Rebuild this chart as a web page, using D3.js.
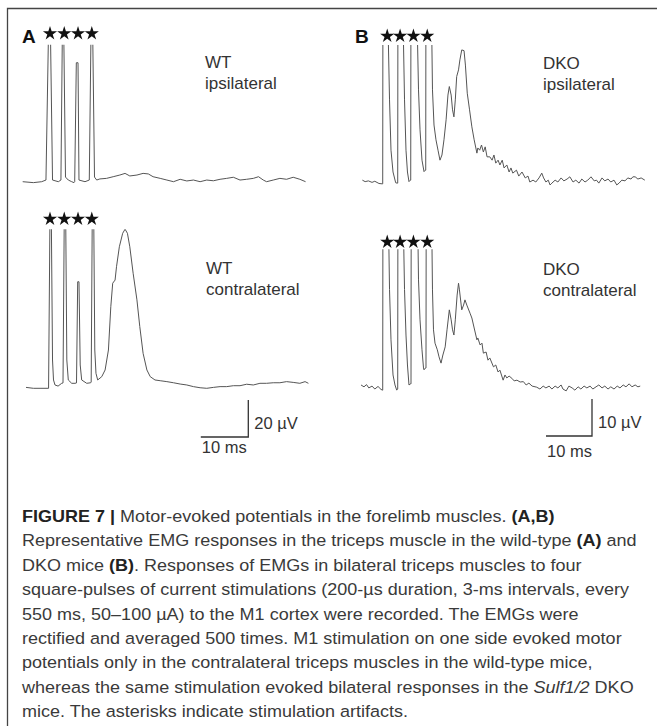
<!DOCTYPE html>
<html>
<head>
<meta charset="utf-8">
<style>
  body { margin: 0; background: #fff; }
  text { font-family: "Liberation Sans", Arial, sans-serif; }
</style>
</head>
<body>
<script src="https://d3js.org/d3.v7.min.js"></script>
<script>
    // traces: [time (ms, from first stimulus), amplitude (µV)]
    let wtIpsi = [[-5.75,0],[-3.5,-0.5],[-1.75,0],[-0.85,0.9],[-0.32,80],[0.1,80],[0.53,0.9],[1.75,0],[2.3,0.9],
        [2.6,80],[2.9,80],[3.26,2.5],[3.85,0.9],[4.57,0],[5.05,-0.5],[5.2,0],[5.54,64.3],[5.9,64.3],[6.1,0.9],
        [7.37,0],[8.27,0.9],[8.63,80],[8.99,80],[9.37,2.5],[9.83,0.9],[10.5,1.5],[11.9,1.8],[13.3,2.7],[14.7,3.6],
        [15.8,4.5],[16.8,3.1],[18.3,3.6],[19.6,4.5],[20.7,4.2],[21.7,2.7],[23.2,1.8],[24.6,0.9],[26,0],[27.4,1.3],
        [28.8,0.4],[30.2,0.9],[31.6,0],[33,0.9],[34.4,0.5],[35.8,1.3],[37.2,1.8],[38.6,2.4],[40,0.9],[41.4,1.3],
        [42.8,1.8],[43.9,2.7],[44.9,0.9],[45.6,0],[47,0.9],[48.4,1.8],[49.8,1.3],[51.2,2.4],[52.6,1.3],[53.8,0]]

    let wtContra = [[-5.05,0.5],[-3.5,0],[-2.1,0],[-0.3,0],[0,95],[0.27,95],[0.53,15.3],[0.74,4.5],[1.05,1.8],
        [1.7,1.2],[2.46,2.7],[2.74,2.9],[3.01,95],[3.3,95],[3.54,15.3],[3.85,4.5],[4.57,2.7],[5.26,2.7],[5.58,2.9],
        [5.83,57.6],[6.1,57.6],[6.36,12.6],[6.67,4.5],[7.73,2.7],[8.57,3],[8.67,3.4],[8.9,95],[9.2,95],[9.43,20.7],
        [9.68,8.1],[10.04,4.5],[10.9,6.3],[11.6,9.9],[12.3,20.7],[12.8,44.1],[13.2,56.8],[13.7,58.5],[14.0,65.7],
        [14.6,76.5],[15.3,83.8],[15.8,86],[16.3,83.8],[16.8,76.5],[17.5,62.2],[18.3,47.8],[18.9,33.4],[19.6,18.9],
        [20.4,9.9],[21.1,6.3],[22.1,4.5],[23.2,4.1],[24.6,3.6],[26,3],[27.4,2.3],[28.8,1.8],[30.2,0.9],[31.6,0.3],
        [33,0],[34.4,0.5],[35.8,0.9],[37.2,0.9],[38.6,1.4],[40,1.4],[41.4,2.2],[42.8,1.8],[44.2,2.7],[45.6,2.7],
        [47,3],[48.4,3],[49.8,3.6],[51.2,3.2],[52.6,2.7],[53.7,3.6],[54.4,2.7]]

    let dkoIpsi = [[-4.7,0.5],[-4.1,0.1],[-3.4,0.3],[-2.6,-0.1],[-2.0,0.2],[-1.1,-0.4],[-0.37,-0.5],[-0.28,-0.5],
        [-0.24,45],[0.83,45],[1.2,22.2],[1.52,8.6],[1.96,2.7],[2.54,-0.2],[2.83,-0.3],[2.98,-0.3],[3.02,45],
        [4.13,45],[4.46,22.2],[4.78,8.6],[5.1,2.7],[5.43,0.1],[5.72,0.5],[5.81,0.5],[5.85,45],[7.17,45],[7.5,24.9],
        [7.83,14.1],[8.26,5.9],[8.7,2.8],[8.98,3.2],[9.07,3.2],[9.11,45],[10.33,45],[10.54,24.9],[10.87,15.4],
        [11.3,11.4],[11.74,8.6],[12.17,5.9],[12.6,7.3],[13.04,11.4],[13.5,16.8],[13.9,23.5],[14.2,25.8],[14.6,23.5],
        [14.9,19.5],[15.2,17.6],[15.5,22.2],[15.8,28.5],[16.2,30.3],[16.5,33],[16.9,35.7],[17.4,35.5],[17.7,31.6],
        [18.1,24],[18.6,19.5],[19.1,14.9],[19.6,11.4],[20.2,7.8],[20.4,9.2],[20.8,8.6],[21.2,10],[21.6,8.1],[22,9.5],
        [22.4,6.8],[23,6.8],[23.5,5.9],[23.9,7.3],[24.3,5.1],[24.8,5.9],[25.2,4.6],[25.7,5.9],[26.1,3.8],[26.7,4.6],
        [27.2,2.7],[27.6,3.8],[28.0,2.4],[28.8,3.2],[29.3,1.6],[30,2.7],[30.7,1.1],[31.3,1.6],[31.7,0],[32.4,0.5],
        [33,0],[33.7,1.1],[34.3,2.4],[34.7,1.1],[35.2,0],[35.7,0.5],[36.1,-0.8],[36.5,-0.3],[37.2,0.5],[37.8,0],
        [38.5,1.1],[39.1,0.3],[39.8,0.8],[40.4,1.4],[41.1,0],[41.7,0.5],[42.4,-0.3],[43,0.8],[43.7,0],[44.3,0.5],
        [45,1.4],[45.7,0.3],[46.2,0.5],[46.7,-0.3],[47.4,1.1],[48,0.3],[48.7,0.8],[49.3,0],[50,0.5],[50.6,-0.8],
        [51.1,-0.3],[51.7,0.5],[52.4,0.3],[53,1.1],[53.7,0.8],[54.1,1.4],[54.6,1.4],[55.2,0.8],[55.9,1.1],[56.7,0.5]]

    let dkoContra = [[-5,0.9],[-4.35,0.4],[-3.8,1],[-3.3,0.1],[-2.6,0.6],[-2.0,-0.2],[-1.3,0.5],[-0.65,-0.3],
        [-0.33,-0.5],[-0.28,-0.5],[-0.24,45],[0.98,45],[1.2,26.7],[1.52,13.1],[1.96,3.6],[2.39,0.9],[2.76,-0.5],
        [2.93,-0.2],[2.98,-0.2],[3.02,45],[4.2,45],[4.46,26.7],[4.78,14.4],[5.1,6.3],[5.43,0.9],[5.76,1.2],
        [5.87,1.2],[5.91,45],[7.33,45],[7.5,29.3],[7.83,18.5],[8.26,10.4],[8.59,5.5],[8.7,5],[9.02,5.5],[9.13,5.5],
        [9.17,45],[10.37,45],[10.54,26.6],[10.76,15.8],[11.09,12.2],[11.59,10.4],[11.96,8.5],[12.4,6.8],[12.8,9],
        [13.3,11.2],[13.7,15.8],[14.2,21.2],[14.6,18.5],[14.9,15.8],[15.2,14.4],[15.5,18.5],[15.9,25.2],[16.2,28.4],
        [16.4,26.6],[16.9,21.2],[17.3,22.5],[17.6,23.9],[18,22.5],[18.7,20.3],[19.1,19],[19.6,16.3],[20.2,13.1],
        [20.4,13.6],[20.9,11.7],[21.3,12.2],[21.6,9.5],[22.2,9.8],[22.6,7.6],[23,8.2],[23.8,5.8],[24.3,6.3],
        [24.8,4.4],[25.2,4.9],[25.9,2.2],[26.3,3.6],[26.7,2.8],[27.2,3.3],[27.8,2.7],[28.3,2],[28.9,2.2],[29.6,1.7],
        [30.3,1.8],[30.9,0.9],[31.5,1.4],[32.2,0.6],[33.2,0.3],[33.9,-0.2],[34.6,0.6],[35.2,0.1],[35.9,0.6],
        [36.5,-0.2],[37.2,0.6],[37.8,0.1],[38.5,0.9],[38.9,-0.2],[39.6,-0.7],[40.2,0.6],[40.9,0.1],[41.5,-0.5],
        [42.2,0.4],[42.8,-0.2],[43.5,0.6],[44.1,0.1],[44.8,0.6],[45.4,-0.2],[46.1,0.4],[46.7,0.9],[47.4,0.1],
        [48,0.6],[48.7,-0.2],[49.3,0.4],[50,-0.2],[50.7,0.6],[51.3,0.1],[52,0.9],[52.6,0.4],[53.3,1.2],[53.9,0.4],
        [54.6,0.9],[55.2,0.4],[55.7,0.6]]

    // stimulus times (ms) marked by stars
    let stimA = [0, 3, 5.9, 8.8]
    let stimB = [0.7, 3.5, 6.4, 9.4]
    // displayed amplitude limit of each trace (µV), artifacts clip there
    let clipTop = {wtIpsi: 74, wtContra: 86, dkoIpsi: 37, dkoContra: 37.6}

    let panelLabels = ["A", "B"]
    let traceLabels = [["WT", "ipsilateral"], ["WT", "contralateral"], ["DKO", "ipsilateral"], ["DKO", "contralateral"]]
    let scaleBarA = {ms: 10, uv: 20}
    let scaleBarB = {ms: 10, uv: 10}

    let captionLines = [
        [["FIGURE 7 | ", "b"], ["Motor-evoked potentials in the forelimb muscles. ", ""], ["(A,B)", "b"]],
        [["Representative EMG responses in the triceps muscle in the wild-type ", ""], ["(A)", "b"], [" and", ""]],
        [["DKO mice ", ""], ["(B)", "b"], [". Responses of EMGs in bilateral triceps muscles to four", ""]],
        [["square-pulses of current stimulations (200-\u00b5s duration, 3-ms intervals, every", ""]],
        [["550 ms, 50\u2013100 \u00b5A) to the M1 cortex were recorded. The EMGs were", ""]],
        [["rectified and averaged 500 times. M1 stimulation on one side evoked motor", ""]],
        [["potentials only in the contralateral triceps muscles in the wild-type mice,", ""]],
        [["whereas the same stimulation evoked bilateral responses in the ", ""], ["Sulf1/2", "i"], [" DKO", ""]],
        [["mice. The asterisks indicate stimulation artifacts.", ""]]
    ]

    let svgContainer = d3.select("body").append("svg")
                                        .attr("width", 657).attr("height", 726)

    let trace_color = "#555",
        text_color = "#333"

    // frame
    svgContainer.append("path").attr("d", "M7.5,726V8.5H657")
        .attr("fill", "none").attr("stroke", "#444").attr("stroke-width", 1.3)

    let xA = d3.scaleLinear().domain([0, 10]).range([50, 97.5])
    let xB = d3.scaleLinear().domain([0, 10]).range([384, 430])

    let panels = [
        {key: "wtIpsi", data: wtIpsi, x: xA, y: d3.scaleLinear().domain([0, 20]).range([181.7, 144.7]), stim: stimA, starY: 32.5, lab: traceLabels[0], lx: 205, ly: 68},
        {key: "wtContra", data: wtContra, x: xA, y: d3.scaleLinear().domain([0, 20]).range([388.3, 351.3]), stim: stimA, starY: 218, lab: traceLabels[1], lx: 206, ly: 273.5},
        {key: "dkoIpsi", data: dkoIpsi, x: xB, y: d3.scaleLinear().domain([0, 10]).range([182, 145]), stim: stimB, starY: 35, lab: traceLabels[2], lx: 543, ly: 68.5},
        {key: "dkoContra", data: dkoContra, x: xB, y: d3.scaleLinear().domain([0, 10]).range([388.3, 351.3]), stim: stimB, starY: 241, lab: traceLabels[3], lx: 543, ly: 274.5}
    ]

    let defs = svgContainer.append("defs")
    let star = d3.symbol().type(d3.symbolStar).size(62)

    panels.forEach((p, i) => {
        let top = p.y(clipTop[p.key])
        defs.append("clipPath").attr("id", "clip" + i)
            .append("rect").attr("x", 0).attr("y", top).attr("width", 657).attr("height", 400)

        let line = d3.line().x(d => p.x(d[0])).y(d => p.y(d[1]))
        svgContainer.append("path").datum(p.data)
            .attr("d", line)
            .attr("clip-path", "url(#clip" + i + ")")
            .attr("fill", "none").attr("stroke", trace_color)
            .attr("stroke-width", 1).attr("stroke-linejoin", "round")

        svgContainer.selectAll(null).data(p.stim).enter().append("path")
            .attr("d", star)
            .attr("transform", d => "translate(" + p.x(d) + "," + (p.starY + 1) + ")")
            .attr("fill", "#111")

        let t = svgContainer.append("text").attr("x", p.lx).attr("y", p.ly)
            .attr("font-size", 17).attr("fill", text_color)
        t.append("tspan").attr("x", p.lx).text(p.lab[0])
        t.append("tspan").attr("x", p.lx).attr("dy", 21).text(p.lab[1])
    })

    // panel letters
    svgContainer.append("text").attr("x", 22).attr("y", 43).attr("font-size", 19)
        .attr("font-weight", "bold").attr("fill", "#111").text(panelLabels[0])
    svgContainer.append("text").attr("x", 355).attr("y", 43).attr("font-size", 19)
        .attr("font-weight", "bold").attr("fill", "#111").text(panelLabels[1])

    // scale bars
    let draw_scalebar = (cx, cy, x, y, bar, txtY) => {
        let w = x(bar.ms) - x(0), h = y(0) - y(bar.uv)
        svgContainer.append("path").attr("d", "M" + (cx - w) + "," + cy + "H" + cx + "V" + (cy - h))
            .attr("fill", "none").attr("stroke", "#333").attr("stroke-width", 1.3)
        svgContainer.append("text").attr("x", cx + 6).attr("y", cy - 8).attr("font-size", 16.5)
            .attr("fill", text_color).text(bar.uv + " \u00b5V")
        svgContainer.append("text").attr("x", cx - w + 1).attr("y", txtY).attr("font-size", 16.5)
            .attr("fill", text_color).text(bar.ms + " ms")
    }
    draw_scalebar(248.3, 437, xA, panels[1].y, scaleBarA, 453)
    draw_scalebar(592, 436, xB, panels[3].y, scaleBarB, 457)

    // caption
    let cap = svgContainer.append("g")
    captionLines.forEach((segs, i) => {
        let t = cap.append("text").attr("x", 0).attr("y", 522 + i * 24.4)
            .attr("font-size", 16.5).attr("fill", "#3a3a3a").style("white-space", "pre")
        segs.forEach(s => {
            let ts = t.append("tspan").text(s[0])
            if (s[1] == "b") ts.attr("font-weight", "bold").attr("fill", "#222")
            if (s[1] == "i") ts.attr("font-style", "italic")
        })
    })
    let len = cap.selectAll("text").nodes()[1].getComputedTextLength()
    cap.attr("transform", "translate(22,0) scale(" + (615 / len) + ",1)")
</script>
</body>
</html>
